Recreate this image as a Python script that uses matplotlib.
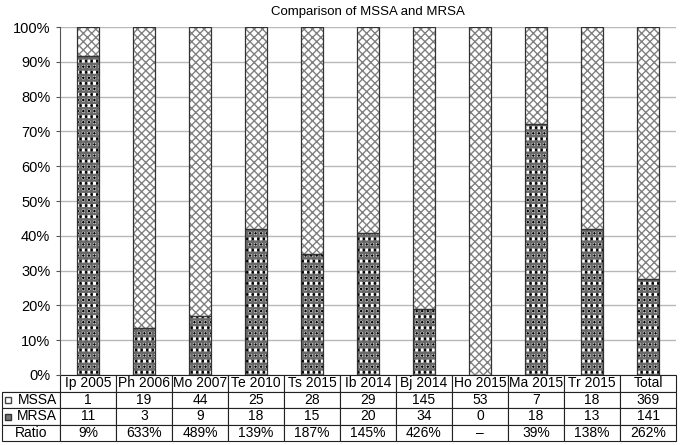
import matplotlib as mpl
import matplotlib.pyplot as plt
from matplotlib.patches import Rectangle
import numpy as np

plt.rcParams['font.family'] = ['Liberation Sans', 'DejaVu Sans']

# data
studies = ['Ip 2005', 'Ph 2006', 'Mo 2007', 'Te 2010', 'Ts 2015', 'Ib 2014',
           'Bj 2014', 'Ho 2015', 'Ma 2015', 'Tr 2015', 'Total']
mssa = [1, 19, 44, 25, 28, 29, 145, 53, 7, 18, 369]
mrsa = [11, 3, 9, 18, 15, 20, 34, 0, 18, 13, 141]
ratio = ['9%', '633%', '489%', '139%', '187%', '145%', '426%', '\u2013', '39%', '138%', '262%']

mssa_a = np.array(mssa, dtype=float)
mrsa_a = np.array(mrsa, dtype=float)
tot = mssa_a + mrsa_a
mrsa_pct = mrsa_a / tot
mssa_pct = mssa_a / tot

fig = plt.figure(figsize=(6.81, 4.45), dpi=100)
ax = fig.add_axes([60 / 681, 70 / 445, 616 / 681, 348 / 445])

x = np.arange(len(studies))
w = 0.4
# MRSA: grey grid with dotted squares
with mpl.rc_context({'hatch.linewidth': 1.8}):
    ax.bar(x, mrsa_pct, w, color='white', edgecolor='#6a6a6a', hatch='+++', linewidth=0, zorder=3)
with mpl.rc_context({'hatch.linewidth': 1.0}):
    ax.bar(x, mrsa_pct, w, color='none', edgecolor='black', hatch='...', linewidth=0, zorder=3)
ax.bar(x, mrsa_pct, w, color='none', edgecolor='#333333', linewidth=0.9, zorder=4)
# MSSA: light crosshatch
with mpl.rc_context({'hatch.linewidth': 1.0}):
    ax.bar(x, mssa_pct, w, bottom=mrsa_pct, color='white', edgecolor='#808080', hatch='xxxx',
           linewidth=0, zorder=3)
ax.bar(x, mssa_pct, w, bottom=mrsa_pct, color='none', edgecolor='#333333', linewidth=0.9, zorder=4)

ax.set_xlim(-0.5, len(studies) - 0.5)
ax.set_ylim(0, 1)
ax.set_yticks(np.arange(0, 1.01, 0.1))
ax.set_yticklabels(['%d%%' % v for v in range(0, 101, 10)], fontsize=10.5)
ax.set_xticks([])
ax.yaxis.grid(True, color='#b8b8b8', linewidth=1)
ax.set_axisbelow(True)
for s in ['top', 'right', 'bottom']:
    ax.spines[s].set_visible(False)
ax.spines['left'].set_color('#555555')
ax.tick_params(axis='y', length=3, color='#555555', pad=4)

ax.set_title('Comparison of MSSA and MRSA', fontsize=9.5, pad=9)

# data table below the bars
cell_text = [['MSSA'] + [str(v) for v in mssa],
             ['MRSA'] + [str(v) for v in mrsa],
             ['Ratio'] + ratio]
left = -58 / 616
col_w = [58 / 674] + [616 / 674 / 11] * 11
tb = ax.table(cellText=cell_text, colLabels=[''] + studies, colWidths=col_w,
              cellLoc='center', bbox=[left, -66 / 348, 1 - left, 66 / 348])
tb.auto_set_font_size(False)
tb.set_fontsize(10)
for (r, c), cell in tb.get_celld().items():
    cell.set_edgecolor('#222222')
    cell.set_linewidth(0.8)
    if r == 0 and c == 0:
        cell.visible_edges = 'B'
    if c == 0 and r in (1, 2):
        cell.get_text().set_horizontalalignment('right')
        cell.PAD = 0.05

# legend keys in the row labels
fig.patches.append(Rectangle((5 / 681, (445 - 403) / 445), 6 / 681, 6 / 445,
                             transform=fig.transFigure, facecolor='white',
                             edgecolor='#444444', linewidth=1))
fig.patches.append(Rectangle((5 / 681, (445 - 420) / 445), 6 / 681, 6 / 445,
                             transform=fig.transFigure, facecolor='#777777',
                             edgecolor='#333333', linewidth=1))

fig.savefig('out.png', dpi=100)
